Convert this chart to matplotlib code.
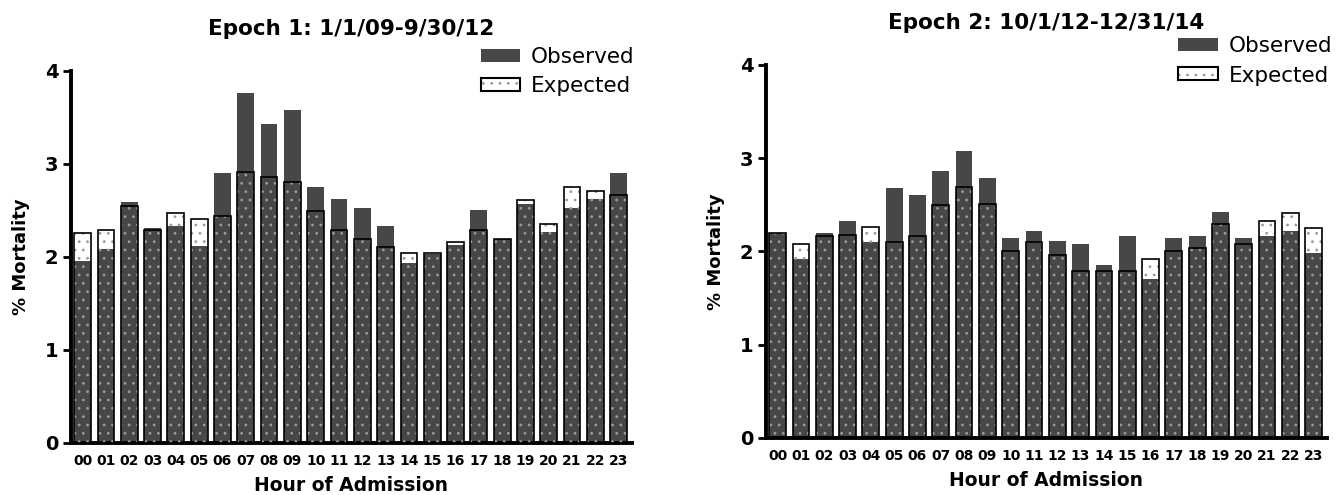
import matplotlib.pyplot as plt
import numpy as np
from matplotlib.patches import Patch
from matplotlib.legend_handler import HandlerTuple

plt.rcParams['font.family'] = ['DejaVu Sans']
plt.rcParams['hatch.linewidth'] = 0.8

hours = ['%02d' % h for h in range(24)]

# Epoch 1: 1/1/09-9/30/12
obs1 = [1.96, 2.09, 2.59, 2.31, 2.33, 2.12, 2.90, 3.76, 3.43, 3.58, 2.75, 2.62,
        2.53, 2.33, 1.93, 2.03, 2.13, 2.50, 2.19, 2.57, 2.27, 2.53, 2.62, 2.90]
exp1 = [2.26, 2.29, 2.55, 2.29, 2.47, 2.41, 2.44, 2.91, 2.86, 2.81, 2.49, 2.29,
        2.19, 2.11, 2.04, 2.04, 2.16, 2.29, 2.19, 2.61, 2.35, 2.75, 2.71, 2.67]

# Epoch 2: 10/1/12-12/31/14
obs2 = [2.20, 1.92, 2.20, 2.33, 2.10, 2.68, 2.61, 2.86, 3.08, 2.79, 2.14, 2.22,
        2.11, 2.08, 1.85, 2.17, 1.70, 2.14, 2.17, 2.42, 2.14, 2.17, 2.22, 1.98]
exp2 = [2.20, 2.08, 2.17, 2.18, 2.26, 2.10, 2.17, 2.50, 2.69, 2.51, 2.01, 2.10,
        1.96, 1.79, 1.79, 1.79, 1.92, 2.01, 2.04, 2.29, 2.08, 2.33, 2.41, 2.25]

titles = ['Epoch 1: 1/1/09-9/30/12', 'Epoch 2: 10/1/12-12/31/14']

dark = '#474747'
dots = '#9a9a9a'
w = 0.72

fig = plt.figure(figsize=(13.37, 4.95), dpi=100)
ax1 = fig.add_axes([0.0531, 0.1051, 0.4196, 0.7515])
ax2 = fig.add_axes([0.5729, 0.1152, 0.4196, 0.7535])


def draw(ax, obs, exp, title, leg_anchor):
    x = np.arange(len(hours))
    ax.bar(x, obs, width=w, color=dark, edgecolor='none', zorder=2)
    ax.bar(x, exp, width=w, color='none', edgecolor=dots, hatch='..', linewidth=0, zorder=3)
    ax.bar(x, exp, width=w, fill=False, edgecolor='black', linewidth=1.2, zorder=4)

    ax.set_xlim(-0.5, 23.57)
    ax.set_ylim(0, 4)
    ax.set_xticks(x)
    ax.set_xticklabels(hours, fontsize=10, fontweight='bold')
    ax.set_yticks([0, 1, 2, 3, 4])
    ax.set_yticklabels(['0', '1', '2', '3', '4'], fontsize=14, fontweight='bold')
    ax.tick_params(axis='x', length=0, pad=8)
    ax.tick_params(axis='y', length=6, width=2, pad=3)
    for s in ['top', 'right']:
        ax.spines[s].set_visible(False)
    for s in ['left', 'bottom']:
        ax.spines[s].set_linewidth(2.8)
    ax.set_xlabel('Hour of Admission', fontsize=13.5, fontweight='bold', labelpad=6)
    ax.set_ylabel('% Mortality', fontsize=13, fontweight='bold', labelpad=11)
    ax.set_title(title, fontsize=15.5, fontweight='bold', pad=26)

    h_obs = Patch(facecolor=dark, edgecolor='none')
    h_exp = (Patch(facecolor='white', edgecolor=dots, hatch='..', linewidth=0),
             Patch(fill=False, edgecolor='black', linewidth=1.5))
    ax.legend([h_obs, h_exp], ['Observed', 'Expected'],
              handler_map={tuple: HandlerTuple(ndivide=1, pad=0)},
              loc='upper right', bbox_to_anchor=leg_anchor, frameon=False,
              fontsize=15.5, handlelength=1.85, handleheight=0.55,
              handletextpad=0.5, labelspacing=0.45, borderpad=0, borderaxespad=0)


draw(ax1, obs1, exp1, titles[0], (1.005, 1.065))
draw(ax2, obs2, exp2, titles[1], (1.01, 1.078))

fig.savefig('out.png', dpi=100)
